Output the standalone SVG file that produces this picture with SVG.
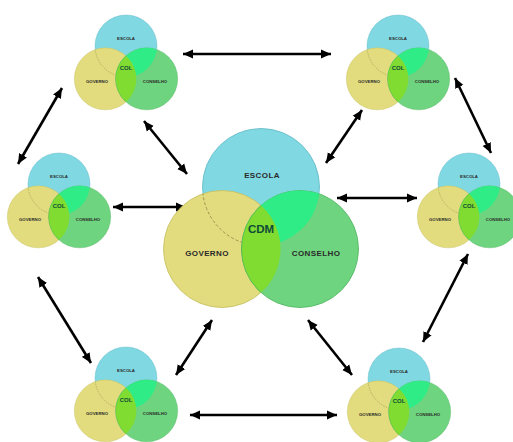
<svg xmlns="http://www.w3.org/2000/svg" xmlns:xlink="http://www.w3.org/1999/xlink" width="513" height="442" viewBox="0 0 513 442">
  <style>
    .escola { fill: #80d8e2; stroke: #5fb8c4; stroke-width: 0.8; }
    .governo { fill: #e2dc7e; stroke: #c4be5e; stroke-width: 0.8; }
    .conselho { fill: #6fd47f; stroke: #4fb45f; stroke-width: 0.8; }
    .lens-ec { fill: #2fec86; }
    .lens-gc { fill: #80dc30; }
    .hidden-arc { fill: none; stroke: #9a9650; stroke-width: 1; stroke-dasharray: 3 2; }
    .lbl { font-family: "Liberation Sans", Arial, sans-serif; font-weight: bold; fill: #2a2a2a; text-anchor: middle; }
    .big { font-size: 8px; letter-spacing: 0.4px; }
    .small { font-size: 4.3px; }
    .core { font-family: "Liberation Sans", Arial, sans-serif; font-weight: bold; fill: #0e4a3a; text-anchor: middle; }
    .link { stroke: #000; stroke-width: 2.6; fill: none; marker-start: url(#head); marker-end: url(#head); }
  </style>
  <defs>
    <marker id="head" markerUnits="userSpaceOnUse" markerWidth="11" markerHeight="10" refX="10" refY="5" orient="auto-start-reverse" viewBox="0 0 11 10">
      <path d="M0,0.5 L10,5 L0,9.5 Z" fill="#000"/>
    </marker>
    <!-- three-set venn in local coordinates, ESCOLA centred on the origin -->
    <clipPath id="clipEscola"><circle cx="0" cy="0" r="58.5"/></clipPath>
    <clipPath id="clipGoverno"><circle cx="-39" cy="62" r="58.5"/></clipPath>
    <g id="venn">
      <circle class="escola" cx="0" cy="0" r="58.5"/>
      <circle class="governo" cx="-39" cy="62" r="58.5"/>
      <circle class="conselho" cx="39" cy="62" r="58.5"/>
      <circle class="lens-ec" cx="39" cy="62" r="58.5" clip-path="url(#clipEscola)"/>
      <circle class="hidden-arc" cx="0" cy="0" r="58.5" clip-path="url(#clipGoverno)"/>
      <circle class="lens-gc" cx="39" cy="62" r="58.5" clip-path="url(#clipGoverno)"/>
      <circle cx="39" cy="62" r="58.5" fill="none" stroke="#4fb45f" stroke-width="0.6" clip-path="url(#clipGoverno)"/>
    </g>
  </defs>

  <rect width="513" height="442" fill="#fff"/>

  <!-- connectors -->
  <g id="connectors">
    <line class="link" x1="183" y1="54" x2="331" y2="54"/>
    <line class="link" x1="144" y1="121" x2="187" y2="174"/>
    <line class="link" x1="362" y1="110" x2="326" y2="163"/>
    <line class="link" x1="62" y1="88" x2="18" y2="164"/>
    <line class="link" x1="455" y1="78" x2="491" y2="153"/>
    <line class="link" x1="113" y1="207" x2="186" y2="207"/>
    <line class="link" x1="337" y1="198" x2="417" y2="198"/>
    <line class="link" x1="38" y1="277" x2="91" y2="363"/>
    <line class="link" x1="468" y1="254" x2="423" y2="342"/>
    <line class="link" x1="212" y1="320" x2="176" y2="375"/>
    <line class="link" x1="308" y1="320" x2="352" y2="375"/>
    <line class="link" x1="190" y1="415" x2="337" y2="415"/>
  </g>

  <!-- central council -->
  <g id="cdm" transform="translate(261,187)">
    <use xlink:href="#venn"/>
    <text class="lbl big" x="1" y="-9">ESCOLA</text>
    <text class="core" x="0" y="46" font-size="11.5">CDM</text>
    <text class="lbl big" x="-54" y="69">GOVERNO</text>
    <text class="lbl big" x="55" y="69">CONSELHO</text>
  </g>

  <!-- local councils -->
  <g id="col-top-left" transform="translate(126,46)">
    <use xlink:href="#venn" transform="scale(0.53)"/>
    <text class="lbl small" x="0" y="-6">ESCOLA</text>
    <text class="core" x="0" y="23.5" font-size="6">COL</text>
    <text class="lbl small" x="-29" y="36.5">GOVERNO</text>
    <text class="lbl small" x="29" y="36.5">CONSELHO</text>
  </g>
  <g id="col-top-right" transform="translate(398,46)">
    <use xlink:href="#venn" transform="scale(0.53)"/>
    <text class="lbl small" x="0" y="-6">ESCOLA</text>
    <text class="core" x="0" y="23.5" font-size="6">COL</text>
    <text class="lbl small" x="-29" y="36.5">GOVERNO</text>
    <text class="lbl small" x="29" y="36.5">CONSELHO</text>
  </g>
  <g id="col-mid-left" transform="translate(59,184)">
    <use xlink:href="#venn" transform="scale(0.53)"/>
    <text class="lbl small" x="0" y="-6">ESCOLA</text>
    <text class="core" x="0" y="23.5" font-size="6">COL</text>
    <text class="lbl small" x="-29" y="36.5">GOVERNO</text>
    <text class="lbl small" x="29" y="36.5">CONSELHO</text>
  </g>
  <g id="col-mid-right" transform="translate(469,184)">
    <use xlink:href="#venn" transform="scale(0.53)"/>
    <text class="lbl small" x="0" y="-6">ESCOLA</text>
    <text class="core" x="0" y="23.5" font-size="6">COL</text>
    <text class="lbl small" x="-29" y="36.5">GOVERNO</text>
    <text class="lbl small" x="29" y="36.5">CONSELHO</text>
  </g>
  <g id="col-bottom-left" transform="translate(126,378)">
    <use xlink:href="#venn" transform="scale(0.53)"/>
    <text class="lbl small" x="0" y="-6">ESCOLA</text>
    <text class="core" x="0" y="23.5" font-size="6">COL</text>
    <text class="lbl small" x="-29" y="36.5">GOVERNO</text>
    <text class="lbl small" x="29" y="36.5">CONSELHO</text>
  </g>
  <g id="col-bottom-right" transform="translate(399,379)">
    <use xlink:href="#venn" transform="scale(0.53)"/>
    <text class="lbl small" x="0" y="-6">ESCOLA</text>
    <text class="core" x="0" y="23.5" font-size="6">COL</text>
    <text class="lbl small" x="-29" y="36.5">GOVERNO</text>
    <text class="lbl small" x="29" y="36.5">CONSELHO</text>
  </g>
</svg>
